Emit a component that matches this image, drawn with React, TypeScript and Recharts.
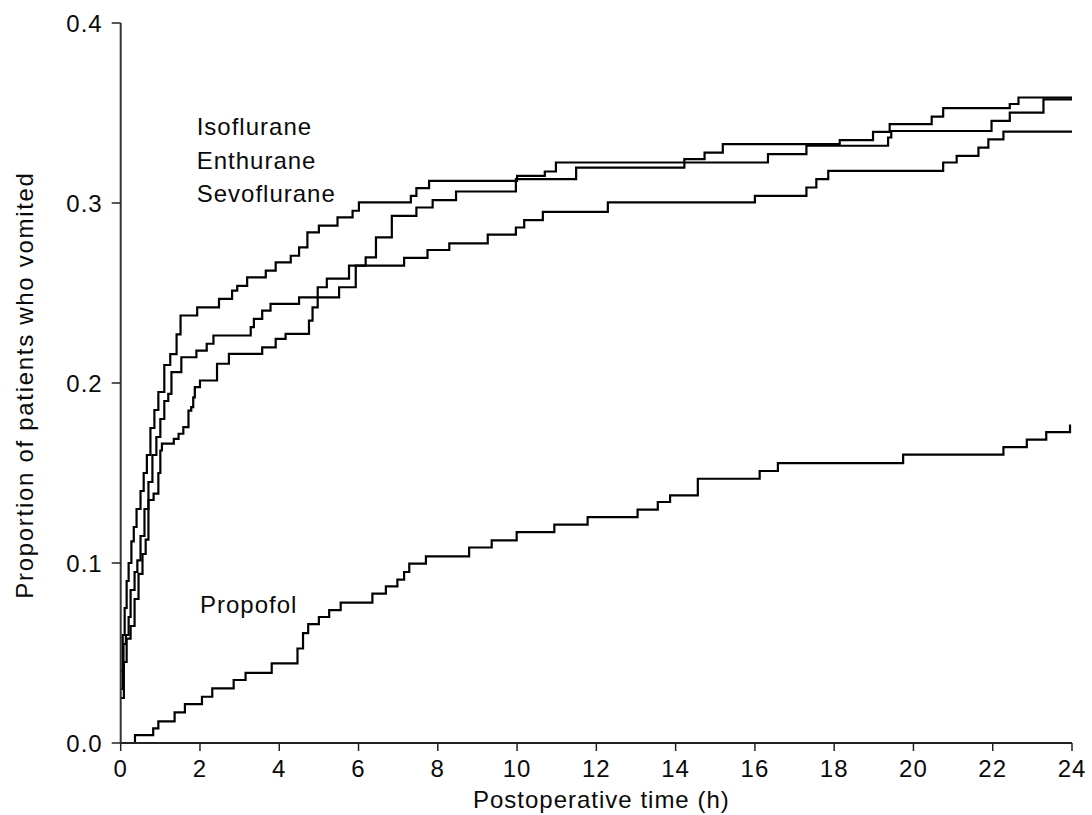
import React from 'react';
import { LineChart, Line, XAxis, YAxis } from 'recharts';

// [hours, proportion] step points
const isoflurane: [number, number][] = [
  [0, 0.03], [0.05, 0.06], [0.1, 0.075], [0.15, 0.09], [0.2, 0.1], [0.27, 0.112], [0.33, 0.12],
  [0.4, 0.13], [0.5, 0.14], [0.58, 0.15], [0.66, 0.16], [0.75, 0.175], [0.85, 0.185], [0.95, 0.195],
  [1.1, 0.21], [1.25, 0.216], [1.41, 0.227], [1.51, 0.2375], [1.93, 0.242], [2.48, 0.2467],
  [2.81, 0.2513], [2.94, 0.254], [3.19, 0.2587], [3.66, 0.2624], [3.91, 0.267], [4.29, 0.2707],
  [4.5, 0.2753], [4.71, 0.2837], [5.0, 0.2874], [5.47, 0.292], [5.85, 0.2957], [6.01, 0.3003],
  [7.32, 0.304], [7.46, 0.3083], [7.78, 0.3123], [10.0, 0.3151], [10.7, 0.3175], [10.98, 0.3225],
  [16.33, 0.3272], [17.3, 0.3318], [19.36, 0.3364], [19.44, 0.34], [21.97, 0.3456], [22.43, 0.3502],
  [23.28, 0.3576], [24, 0.3576],
];

const enthurane: [number, number][] = [
  [0, 0.04], [0.07, 0.055], [0.13, 0.06], [0.2, 0.07], [0.25, 0.085], [0.35, 0.095], [0.42, 0.1015],
  [0.5, 0.115], [0.6, 0.13], [0.7, 0.145], [0.8, 0.16], [0.9, 0.17], [1.0, 0.18], [1.1, 0.19],
  [1.2, 0.194], [1.28, 0.206], [1.53, 0.2143], [1.91, 0.218], [2.17, 0.2218], [2.34, 0.2264],
  [3.28, 0.231], [3.36, 0.2356], [3.57, 0.2402], [3.78, 0.244], [4.5, 0.2476], [5.51, 0.2532],
  [5.93, 0.2652], [7.15, 0.2695], [7.74, 0.2739], [8.29, 0.2776], [9.26, 0.2824], [9.97, 0.2864],
  [10.18, 0.2905], [10.65, 0.2951], [12.29, 0.3003], [16.0, 0.304], [17.3, 0.3086], [17.55, 0.3133],
  [17.85, 0.3179], [20.75, 0.3225], [21.09, 0.3262], [21.64, 0.3308], [21.89, 0.3354], [22.27, 0.3397],
  [24, 0.3397],
];

const sevoflurane: [number, number][] = [
  [0, 0.025], [0.08, 0.045], [0.15, 0.058], [0.25, 0.065], [0.35, 0.08], [0.45, 0.094], [0.55, 0.105],
  [0.63, 0.113], [0.7, 0.135], [0.83, 0.1385], [0.95, 0.15], [1.0, 0.1625], [1.04, 0.1663],
  [1.34, 0.169], [1.46, 0.1718], [1.58, 0.1755], [1.71, 0.1847], [1.78, 0.1866], [1.83, 0.192],
  [1.87, 0.1977], [2.0, 0.2014], [2.43, 0.2107], [2.73, 0.2162], [3.57, 0.2198], [3.91, 0.2245],
  [4.16, 0.2273], [4.75, 0.2347], [4.84, 0.242], [4.97, 0.2532], [5.2, 0.258], [5.76, 0.2652],
  [6.18, 0.2698], [6.44, 0.2809], [6.84, 0.2929], [7.46, 0.2975], [7.87, 0.3016], [8.46, 0.3064],
  [9.97, 0.3133], [11.49, 0.3197], [14.22, 0.3244], [14.73, 0.328], [15.19, 0.3327], [18.14, 0.3349],
  [18.98, 0.3395], [19.4, 0.3438], [20.46, 0.348], [20.75, 0.3527], [22.43, 0.355], [22.65, 0.3586],
  [24, 0.3586],
];

const propofol: [number, number][] = [
  [0, 0], [0.36, 0.0044], [0.82, 0.0081], [0.95, 0.012], [1.36, 0.017], [1.62, 0.0216], [2.05, 0.0257],
  [2.31, 0.0303], [2.85, 0.035], [3.15, 0.039], [3.81, 0.0442], [4.46, 0.0525], [4.6, 0.061],
  [4.73, 0.066], [5.0, 0.07], [5.26, 0.0738], [5.55, 0.078], [6.35, 0.083], [6.69, 0.087],
  [6.98, 0.0908], [7.15, 0.095], [7.28, 0.0997], [7.7, 0.1037], [8.79, 0.1086], [9.36, 0.1126],
  [9.99, 0.1172], [10.94, 0.1213], [11.78, 0.1255], [13.04, 0.1296], [13.55, 0.1339], [13.86, 0.1376],
  [14.56, 0.1468], [16.12, 0.1511], [16.58, 0.1555], [19.74, 0.1602], [22.27, 0.1644], [22.86, 0.1685],
  [23.35, 0.1727], [23.95, 0.177],
];

const xTicks = [0, 2, 4, 6, 8, 10, 12, 14, 16, 18, 20, 22, 24];
const yTicks = [0, 0.1, 0.2, 0.3, 0.4];
const groupLabels = ['Isoflurane', 'Enthurane', 'Sevoflurane'];

const FONT = '"Liberation Sans", Arial, Helvetica, sans-serif';
const INK = '#0a0a0a';

const toRows = (pts: [number, number][]) => pts.map(([t, v]) => ({ t, v }));

const XTitle = (props: any) => {
  const { viewBox } = props;
  const cx = viewBox.x + viewBox.width / 2 + 5;
  return (
    <text x={cx} y={808} textAnchor="middle" fill={INK} fontSize={24} fontFamily={FONT} letterSpacing={1}>
      Postoperative time (h)
    </text>
  );
};

const YTitle = (props: any) => {
  const { viewBox } = props;
  const cy = viewBox.y + viewBox.height / 2 + 2;
  const cx = 33;
  return (
    <text x={cx} y={cy} transform={`rotate(-90 ${cx} ${cy})`} textAnchor="middle" fill={INK} fontSize={24} fontFamily={FONT} letterSpacing={1.7}>
      Proportion of patients who vomited
    </text>
  );
};

const tickStyle = { fill: INK, fontSize: 24, fontFamily: FONT, letterSpacing: 1 };

export default function App() {
  const series = [isoflurane, enthurane, sevoflurane, propofol];
  return (
    <div style={{ position: 'absolute', left: 0, top: 0, width: 1092, height: 815, background: '#fff' }}>
      <LineChart width={1092} height={815} margin={{ top: 23, right: 20, left: 0, bottom: 0 }}>
        <XAxis
          type="number"
          dataKey="t"
          domain={[0, 24]}
          ticks={xTicks}
          interval={0}
          height={72}
          tickSize={8}
          tickMargin={9}
          tick={tickStyle}
          axisLine={{ stroke: '#222', strokeWidth: 2 }}
          tickLine={{ stroke: '#222', strokeWidth: 1.5 }}
          label={{ content: <XTitle /> }}
        />
        <YAxis
          type="number"
          domain={[0, 0.4]}
          ticks={yTicks}
          interval={0}
          width={120.7}
          tickSize={9}
          tickMargin={9}
          tick={tickStyle}
          tickFormatter={(v: number) => v.toFixed(1)}
          axisLine={{ stroke: '#333', strokeWidth: 2 }}
          tickLine={{ stroke: '#222', strokeWidth: 1.5 }}
          label={{ content: <YTitle /> }}
        />
        {series.map((pts, i) => (
          <Line
            key={i}
            data={toRows(pts)}
            dataKey="v"
            type="stepAfter"
            stroke="#000"
            strokeWidth={2.2}
            dot={false}
            activeDot={false}
            isAnimationActive={false}
          />
        ))}
      </LineChart>
      <svg width={1092} height={815} style={{ position: 'absolute', left: 0, top: 0, pointerEvents: 'none' }}>
        {groupLabels.map((name, i) => (
          <text key={name} x={196.7} y={135 + i * 33.5} fill={INK} fontSize={24} fontFamily={FONT} letterSpacing={1}>
            {name}
          </text>
        ))}
        <text x={200} y={613} fill={INK} fontSize={24} fontFamily={FONT} letterSpacing={1}>
          Propofol
        </text>
      </svg>
    </div>
  );
}
